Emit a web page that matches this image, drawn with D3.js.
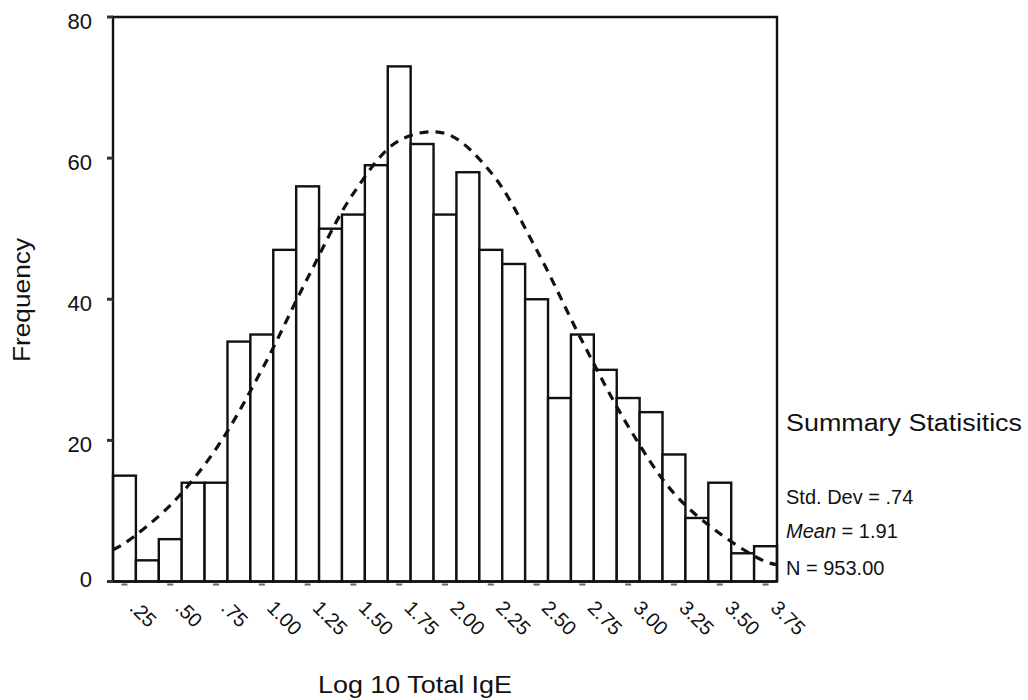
<!DOCTYPE html>
<html>
<head>
<meta charset="utf-8">
<script src="https://cdn.jsdelivr.net/npm/d3@7"></script>
<style>
  body { margin: 0; background: #fff; }
  svg text { font-family: "Liberation Sans", Arial, sans-serif; fill: #111; }
</style>
</head>
<body>
<svg id="hist" width="1028" height="700"></svg>
<script>
(function(){

    // bin centres (width .125) and counts
    const binCenters = [0.25, 0.375, 0.5, 0.625, 0.75, 0.875, 1.0, 1.125, 1.25, 1.375,
        1.5, 1.625, 1.75, 1.875, 2.0, 2.125, 2.25, 2.375, 2.5, 2.625,
        2.75, 2.875, 3.0, 3.125, 3.25, 3.375, 3.5, 3.625, 3.75];
    const counts = [15, 3, 6, 14, 14, 34, 35, 47, 56, 50,
        52, 59, 73, 62, 52, 58, 47, 45, 40, 26,
        35, 30, 26, 24, 18, 9, 14, 4, 5];
    const binWidth = 0.125;

    // dashed normal curve, read at a few x positions
    const curveX = [0.1875, 0.25, 0.5, 0.75, 1.0, 1.25, 1.5, 1.75, 2.0, 2.25, 2.5, 2.75, 3.0, 3.25, 3.5, 3.75, 3.8125];
    const curveY = [4.5, 5.4, 10.8, 18.8, 30, 43, 55, 62.5, 63.5, 58, 47, 34, 22, 12.5, 6.8, 2.8, 2.4];

    const xTicks = [0.25, 0.5, 0.75, 1.0, 1.25, 1.5, 1.75, 2.0, 2.25, 2.5, 2.75, 3.0, 3.25, 3.5, 3.75];
    const xTickLabels = [".25", ".50", ".75", "1.00", "1.25", "1.50", "1.75", "2.00",
        "2.25", "2.50", "2.75", "3.00", "3.25", "3.50", "3.75"];
    const yTicks = [0, 20, 40, 60, 80];

    const stats = [
        {label: "Std. Dev", value: ".74"},
        {label: "Mean", value: "1.91"},
        {label: "N", value: "953.00"}
    ];

    const left = 113, right = 777, top = 17, bottom = 581.5;

    const svg = d3.select("svg#hist");

    const x = d3.scaleLinear()
        .domain([binCenters[0] - binWidth / 2, binCenters[binCenters.length - 1] + binWidth / 2])
        .range([left, right]);

    const y = d3.scaleLinear()
        .domain([0, 80])
        .range([bottom, top]);

    // bars
    svg.append("g")
        .selectAll("rect")
        .data(counts)
        .enter()
        .append("rect")
            .attr("x", (d, i) => x(binCenters[i] - binWidth / 2))
            .attr("y", d => y(d))
            .attr("width", (d, i) => x(binCenters[i] + binWidth / 2) - x(binCenters[i] - binWidth / 2))
            .attr("height", d => bottom - y(d))
            .attr("fill", "#fff")
            .attr("stroke", "#111")
            .attr("stroke-width", 2.4);

    // frame
    svg.append("path")
        .attr("d", "M" + left + "," + bottom + "V" + top + "H" + right + "V" + bottom)
        .attr("fill", "none")
        .attr("stroke", "#111")
        .attr("stroke-width", 2.4);
    svg.append("line")
        .attr("x1", left - 4).attr("x2", right)
        .attr("y1", bottom).attr("y2", bottom)
        .attr("stroke", "#111")
        .attr("stroke-width", 2.6);

    // normal curve
    const line = d3.line()
        .x((d, i) => x(curveX[i]))
        .y(d => y(d))
        .curve(d3.curveCatmullRom);

    svg.append("path")
        .datum(curveY)
        .attr("d", line)
        .attr("fill", "none")
        .attr("stroke", "#111")
        .attr("stroke-width", 3.2)
        .attr("stroke-dasharray", "9,7");

    // y axis: small tick marks + labels
    const yAxis = svg.append("g");
    yAxis.selectAll("rect")
        .data(yTicks)
        .enter()
        .append("rect")
            .attr("x", left - 6)
            .attr("y", d => y(d) - 1.5)
            .attr("width", 6)
            .attr("height", 3)
            .attr("fill", "#333");
    yAxis.selectAll("text")
        .data(yTicks)
        .enter()
        .append("text")
            .attr("x", 92)
            .attr("y", d => y(d) + (d === 0 ? -2 : 4))
            .attr("dy", "0.35em")
            .attr("text-anchor", "end")
            .attr("font-size", "22px")
            .text(d => d);

    // x axis: tick marks + rotated labels
    const xAxis = svg.append("g");
    xAxis.selectAll("rect")
        .data(xTicks)
        .enter()
        .append("rect")
            .attr("x", d => x(d) - 3)
            .attr("y", bottom + 2)
            .attr("width", 6)
            .attr("height", 2)
            .attr("fill", "#666");
    xAxis.selectAll("text")
        .data(xTicks)
        .enter()
        .append("text")
            .attr("transform", d => "translate(" + (x(d) + 4) + "," + 609 + ") rotate(45)")
            .attr("text-anchor", "start")
            .attr("font-size", "20px")
            .text((d, i) => xTickLabels[i]);

    // axis titles
    svg.append("text")
        .attr("x", 318)
        .attr("y", 693)
        .attr("font-size", "23px")
        .attr("textLength", 194)
        .attr("lengthAdjust", "spacingAndGlyphs")
        .text("Log 10 Total IgE");

    svg.append("text")
        .attr("transform", "translate(30,300) rotate(-90)")
        .attr("text-anchor", "middle")
        .attr("font-size", "24px")
        .attr("textLength", 124)
        .attr("lengthAdjust", "spacingAndGlyphs")
        .text("Frequency");

    // summary box
    svg.append("text")
        .attr("x", 786)
        .attr("y", 431)
        .attr("font-size", "23px")
        .attr("textLength", 236)
        .attr("lengthAdjust", "spacingAndGlyphs")
        .text("Summary Statisitics");

    const statY = [504, 538, 575];
    const st = svg.append("g")
        .selectAll("text")
        .data(stats)
        .enter()
        .append("text")
            .attr("x", 786)
            .attr("y", (d, i) => statY[i])
            .attr("font-size", "20px");
    st.append("tspan")
        .attr("font-style", d => d.label === "Mean" ? "italic" : "normal")
        .text(d => d.label);
    st.append("tspan")
        .text(d => " = " + d.value);

})()
</script>
</body>
</html>
